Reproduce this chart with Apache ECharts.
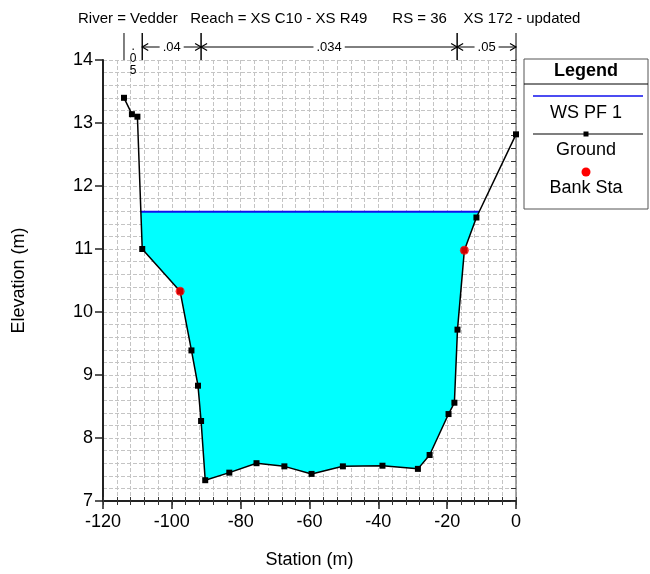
<!DOCTYPE html>
<html><head><meta charset="utf-8">
<script src="https://cdn.jsdelivr.net/npm/echarts@6/dist/echarts.min.js"></script>
<style>html,body{margin:0;padding:0;background:#fff}#c{width:650px;height:574px}</style>
</head><body><div id="c"></div>
<script>
// ---- data ----
const titleText = 'River = Vedder   Reach = XS C10 - XS R49      RS = 36    XS 172 - updated';
const groundStation = [-113.9,-111.6,-110.0,-108.6,-97.6,-94.3,-92.4,-91.5,-90.3,-83.3,-75.4,-67.3,-59.4,-50.3,-38.8,-28.5,-25.1,-19.6,-17.9,-17.0,-15.0,-11.5,0];
const groundElev    = [13.40,13.14,13.10,11.00,10.33,9.39,8.83,8.27,7.33,7.45,7.60,7.55,7.43,7.55,7.56,7.51,7.73,8.38,8.56,9.72,10.98,11.50,12.82];
const bankStation = [-97.6,-15.0];
const bankElev    = [10.33,10.98];
const wsElev = 11.59;
const nBreaks = [-113.9,-108.6,-91.5,-17.1,0];
const nValues = ['.05','.04','.034','.05'];
const seriesNames = ['WS PF 1','Ground','Bank Sta'];
const xTicks = {min:-120,max:0,step:20};
const yTicks = {min:7,max:14,step:1};

// ---- derived geometry ----
const ground = groundStation.map((x,i)=>[x,groundElev[i]]);
const poly = [];
for (let i=0;i<ground.length;i++){
  if (i>0){
    const a = ground[i-1][1]-wsElev, b = ground[i][1]-wsElev;
    if ((a>0)!==(b>0)){
      const t = a/(a-b);
      poly.push([ground[i-1][0]+t*(ground[i][0]-ground[i-1][0]), wsElev]);
    }
  }
  if (ground[i][1]<=wsElev) poly.push(ground[i]);
}
const wsLine = [poly[0], poly[poly.length-1]];
const banks = bankStation.map((x,i)=>[x,bankElev[i]]);

const FONT = '"Liberation Sans", Arial, Helvetica, sans-serif';
const chart = echarts.init(document.getElementById('c'), null, {renderer:'canvas'});
const dashed = {show:true, lineStyle:{color:'#c4c4c4', type:[4,2], width:1}};

const legendX = 524, legendY = 59, legendW = 124, legendH = 150, lc = legendX+legendW/2;

chart.setOption({
  animation:false,
  backgroundColor:'#fff',
  title:{text:titleText, left:73, top:6, textStyle:{fontFamily:FONT, fontSize:15, fontWeight:'normal', color:'#000'}},
  grid:{left:103, right:134, top:60, bottom:71, containLabel:false},
  xAxis:[
    {type:'value', min:xTicks.min, max:xTicks.max, interval:xTicks.step,
     name:'Station (m)', nameLocation:'middle', nameGap:50,
     nameTextStyle:{fontFamily:FONT, fontSize:18, color:'#000'},
     axisLine:{show:true, onZero:false, lineStyle:{color:'#222', width:2}},
     axisTick:{show:true, inside:false, length:8, lineStyle:{color:'#222', width:1.5}},
     axisLabel:{fontFamily:FONT, fontSize:18, color:'#000', margin:12},
     splitLine:{show:false}},
    {type:'value', min:xTicks.min, max:xTicks.max, interval:4, position:'bottom',
     axisLine:{show:false}, axisLabel:{show:false},
     axisTick:{show:true, inside:false, length:4, lineStyle:{color:'#333', width:1}},
     splitLine:dashed},
    {type:'value', min:xTicks.min, max:xTicks.max, interval:4, position:'bottom',
     axisLine:{show:false}, axisLabel:{show:false},
     axisTick:{show:true, inside:true, length:4, lineStyle:{color:'#333', width:1}},
     splitLine:{show:false}}
  ],
  yAxis:[
    {type:'value', min:yTicks.min, max:yTicks.max, interval:yTicks.step,
     name:'Elevation (m)', nameLocation:'middle', nameGap:75,
     nameTextStyle:{fontFamily:FONT, fontSize:18, color:'#000'},
     axisLine:{show:true, onZero:false, lineStyle:{color:'#222', width:2}},
     axisTick:{show:true, inside:false, length:8, lineStyle:{color:'#222', width:1.5}},
     axisLabel:{fontFamily:FONT, fontSize:18, color:'#000', margin:10},
     splitLine:{show:false}},
    {type:'value', min:yTicks.min, max:yTicks.max, interval:0.2, position:'left',
     axisLine:{show:false}, axisLabel:{show:false},
     axisTick:{show:true, inside:false, length:5, lineStyle:{color:'#333', width:1}},
     splitLine:dashed},
    {type:'value', min:yTicks.min, max:yTicks.max, position:'right',
     axisLine:{show:true, onZero:false, lineStyle:{color:'#888', width:1.5}},
     axisLabel:{show:false}, axisTick:{show:false}, splitLine:{show:false}}
  ],
  series:[
    {type:'custom', name:'fill', z:1, data:[[0,0]],
     renderItem:(params, api)=>({type:'polygon', shape:{points:poly.map(p=>api.coord(p))},
       style:{fill:'#00ffff'}})},
    {type:'line', name:seriesNames[0], z:3, data:wsLine, symbol:'none',
     lineStyle:{color:'#1010ee', width:2}},
    {type:'line', name:seriesNames[1], z:4, data:ground, clip:false,
     symbol:'rect', symbolSize:6, showAllSymbol:true,
     lineStyle:{color:'#000', width:1.5}, itemStyle:{color:'#000'}},
    {type:'scatter', name:seriesNames[2], z:5, data:banks, symbol:'circle', symbolSize:9,
     itemStyle:{color:'#ff0000'}},
    {type:'custom', name:'n', z:6, clip:false, silent:true,
     data:nValues.map((v,i)=>[i]),
     renderItem:(params, api)=>{
       const i = params.dataIndex;
       const p0 = api.coord([nBreaks[i], yTicks.max]);
       const p1 = api.coord([nBreaks[i+1], yTicks.max]);
       const x0=p0[0], x1=p1[0], yb=p0[1], yt=yb-27, ay=yb-13;
       const ls = {stroke:'#000', lineWidth:1};
       const ch = [
         {type:'line', shape:{x1:x0,y1:yt,x2:x0,y2:yb}, style:ls},
         {type:'line', shape:{x1:x1,y1:yt,x2:x1,y2:yb}, style:ls}
       ];
       if (x1-x0>30){
         ch.push({type:'line', shape:{x1:x0,y1:ay,x2:x1,y2:ay}, style:ls});
         ch.push({type:'polyline', shape:{points:[[x0+6,ay-3.5],[x0,ay],[x0+6,ay+3.5]]}, style:{stroke:'#000',lineWidth:1.2,fill:null}});
         ch.push({type:'polyline', shape:{points:[[x1-6,ay-3.5],[x1,ay],[x1-6,ay+3.5]]}, style:{stroke:'#000',lineWidth:1.2,fill:null}});
         ch.push({type:'text', style:{text:nValues[i], x:(x0+x1)/2, y:ay, align:'center', verticalAlign:'middle',
           font:'13px '+FONT, fill:'#000', backgroundColor:'#fff', padding:[0,3]}});
       } else {
         ch.push({type:'text', style:{text:nValues[i].split('').join('\n'), x:(x0+x1)/2, y:ay-6,
           align:'center', verticalAlign:'top', font:'12px '+FONT, lineHeight:12, fill:'#000'}});
       }
       return {type:'group', children:ch};
     }}
  ],
  graphic:[
    {type:'rect', shape:{x:legendX,y:legendY,width:legendW,height:legendH}, style:{fill:'#fff', stroke:'#555', lineWidth:1}, z:10},
    {type:'text', style:{text:'Legend', x:lc, y:71, align:'center', verticalAlign:'middle', font:'bold 18px '+FONT, fill:'#000'}, z:11},
    {type:'line', shape:{x1:legendX,y1:84,x2:legendX+legendW,y2:84}, style:{stroke:'#000', lineWidth:1}, z:11},
    {type:'line', shape:{x1:533,y1:96,x2:643,y2:96}, style:{stroke:'#1010ee', lineWidth:1.5}, z:11},
    {type:'text', style:{text:seriesNames[0], x:lc, y:113, align:'center', verticalAlign:'middle', font:'18px '+FONT, fill:'#000'}, z:11},
    {type:'line', shape:{x1:533,y1:134,x2:643,y2:134}, style:{stroke:'#000', lineWidth:1.2}, z:11},
    {type:'rect', shape:{x:lc-2.5,y:131.5,width:5,height:5}, style:{fill:'#000'}, z:12},
    {type:'text', style:{text:seriesNames[1], x:lc, y:150, align:'center', verticalAlign:'middle', font:'18px '+FONT, fill:'#000'}, z:11},
    {type:'circle', shape:{cx:lc, cy:172, r:4.5}, style:{fill:'#ff0000'}, z:11},
    {type:'text', style:{text:seriesNames[2], x:lc, y:188, align:'center', verticalAlign:'middle', font:'18px '+FONT, fill:'#000'}, z:11}
  ]
});
</script></body></html>
